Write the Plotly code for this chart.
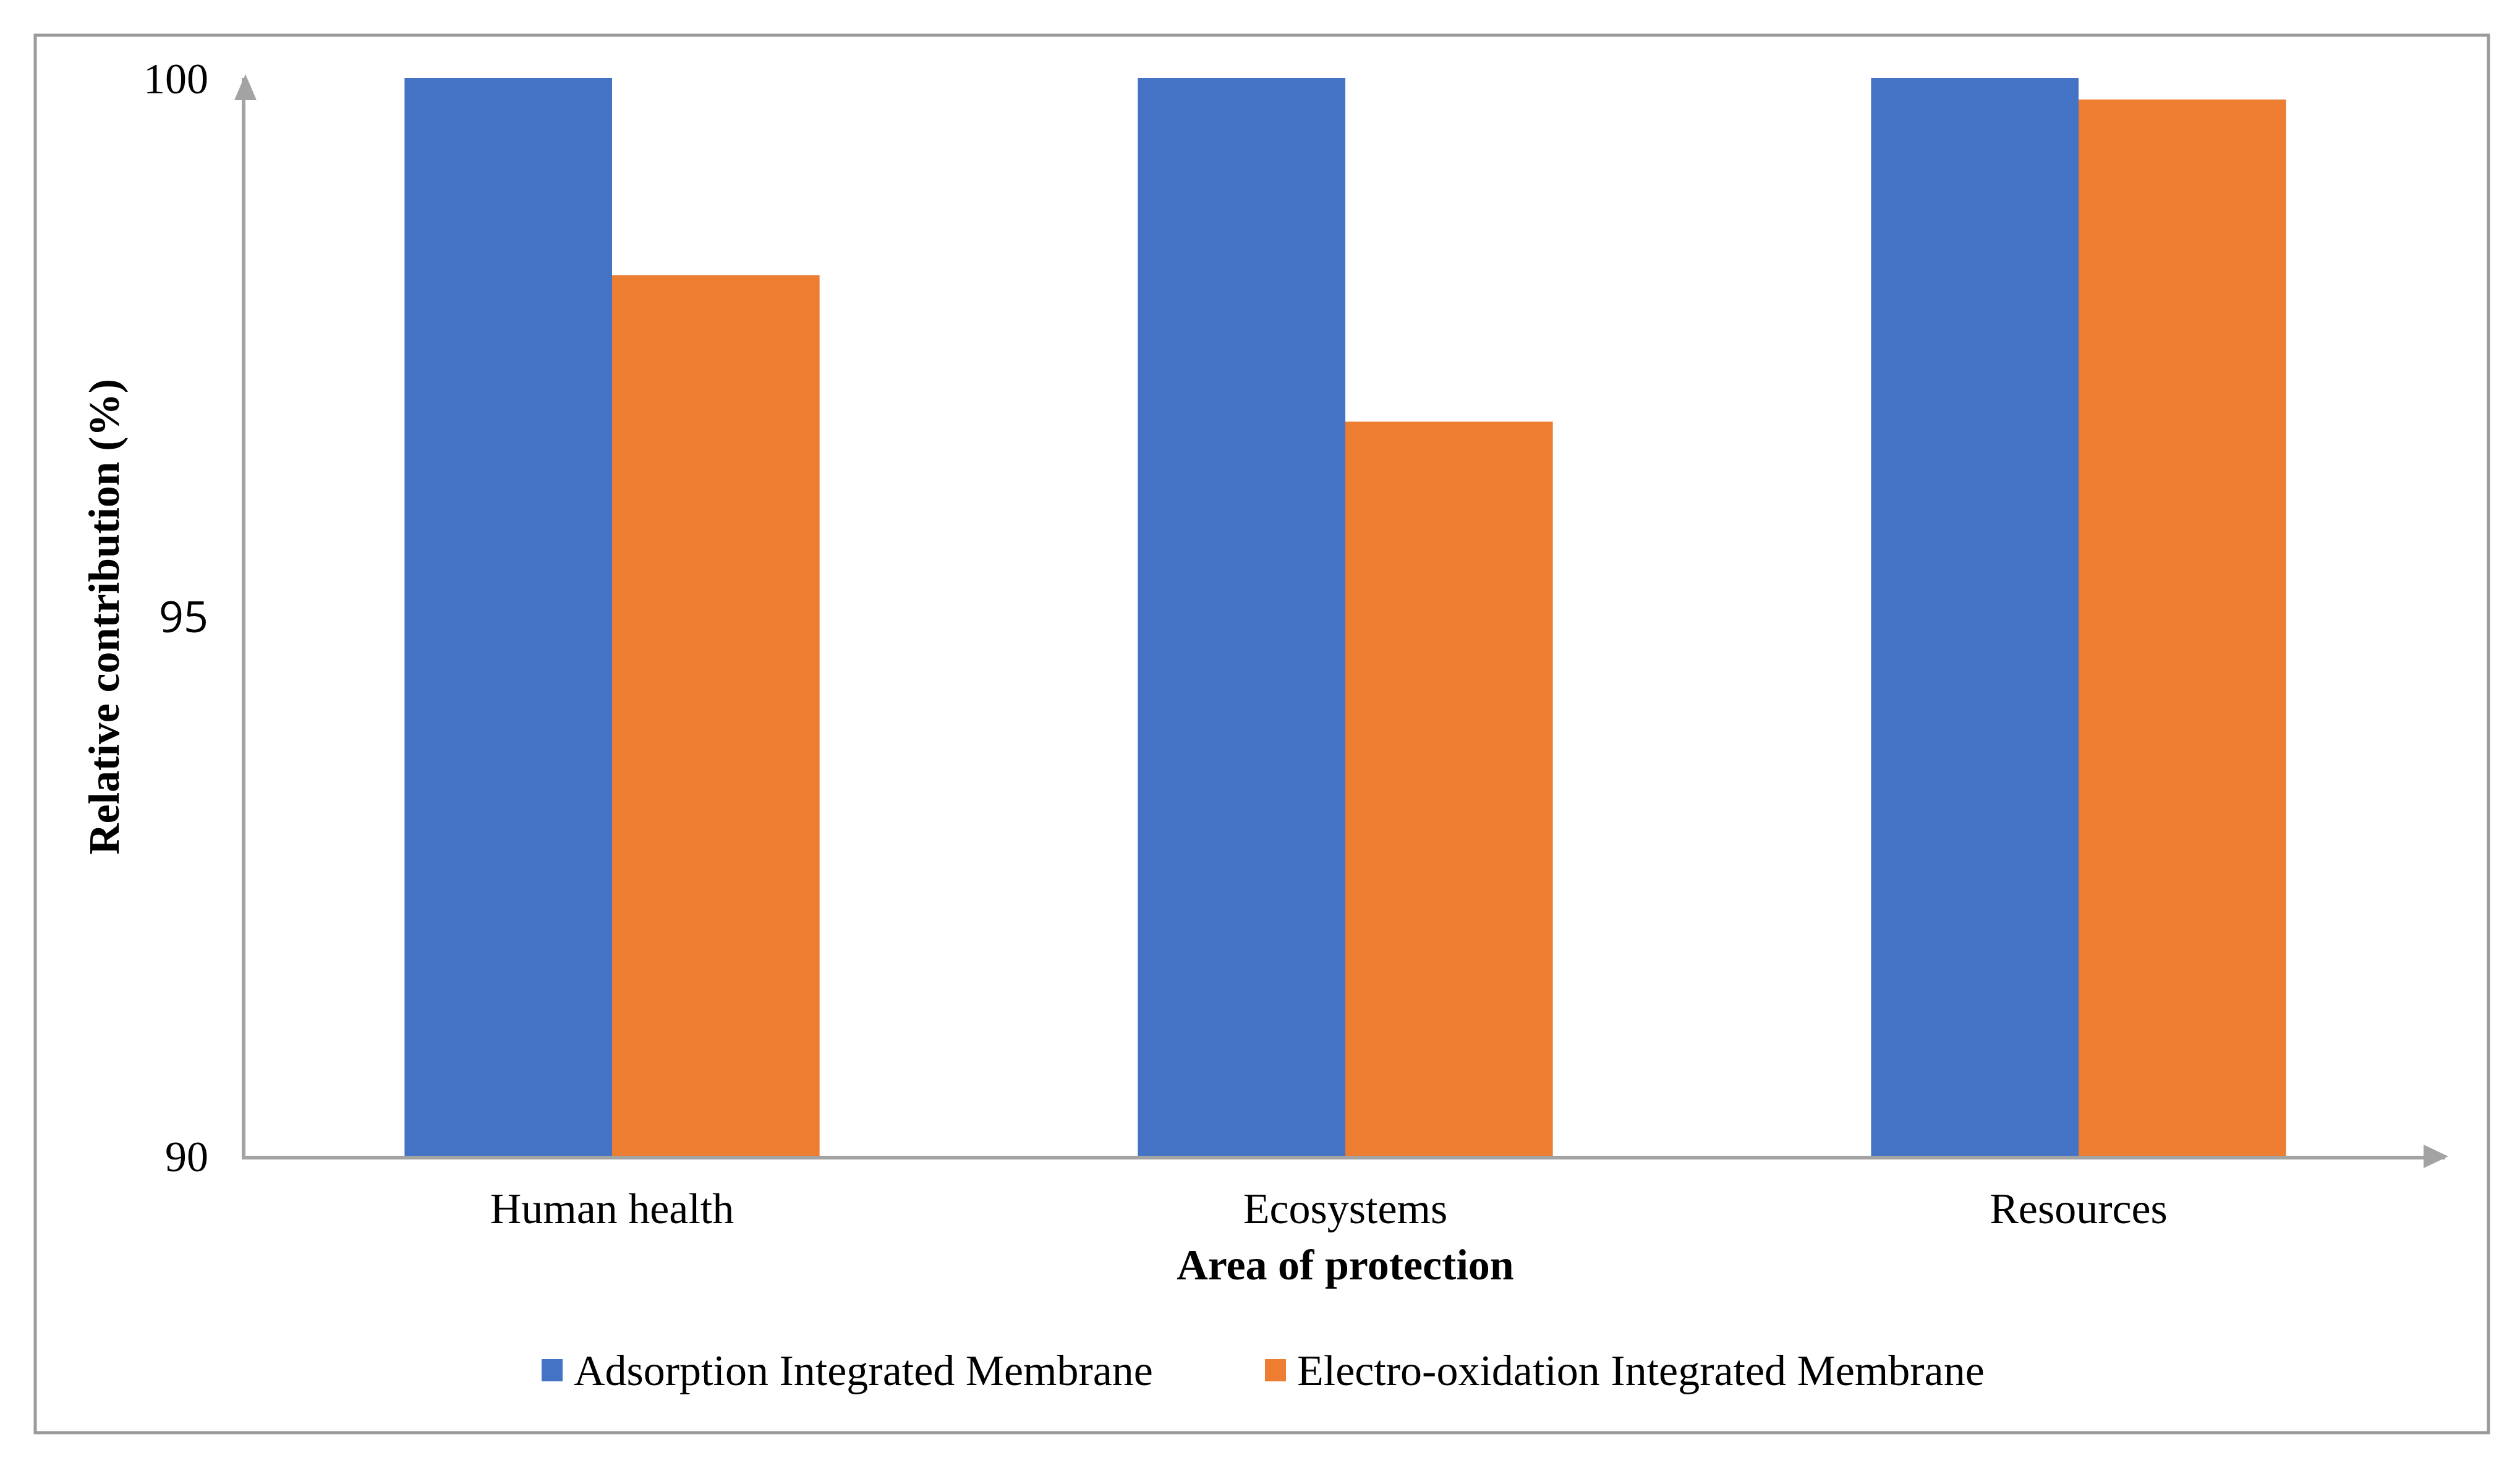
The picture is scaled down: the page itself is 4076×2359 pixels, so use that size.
import plotly.graph_objects as go

# ---- data ----
categories = ["Human health", "Ecosystems", "Resources"]
series_names = ["Adsorption Integrated Membrane", "Electro-oxidation Integrated Membrane"]
adsorption = [100, 100, 100]
electro_oxidation = [98.17, 96.81, 99.80]
series_colors = ["#4472C4", "#ED7D31"]
y_tickvals = [90, 95, 100]
y_ticktext = ["90", "<span style='font-family:Open Sans'>95</span>", "100"]
x_title = "Area of protection"
y_title = "Relative contribution (%)"

# ---- geometry ----
W, H = 4076, 2359
L, R, T, B = 397, 121, 126, 489
PW, PH = W - L - R, H - T - B


def px(x):
    return (x - L) / PW


def py(y):
    return (H - B - y) / PH


FONT = "Liberation Serif, Times New Roman, serif"
AXIS_GREY = "#a3a3a3"

fig = go.Figure()
for name, vals, col in zip(series_names, [adsorption, electro_oxidation], series_colors):
    fig.add_trace(go.Bar(x=categories, y=vals, name=name, marker_color=col,
                         marker_line_width=0, showlegend=False))

fig.update_layout(
    width=W, height=H, autosize=False,
    margin=dict(l=L, r=R, t=T, b=B, pad=0),
    paper_bgcolor="white", plot_bgcolor="white",
    barmode="group", bargap=0.434, bargroupgap=0,
    font=dict(family=FONT, size=70, color="black"),
    xaxis=dict(
        range=[-0.5, 2.5], showline=True, linecolor=AXIS_GREY, linewidth=6,
        showgrid=False, zeroline=False, ticks="", ticklabelstandoff=19,
        tickfont=dict(family=FONT, size=70, color="black"),
        title=dict(text="<b>" + x_title + "</b>", standoff=30,
                   font=dict(family=FONT, size=70, color="black")),
    ),
    yaxis=dict(
        range=[90, 100], showline=True, linecolor=AXIS_GREY, linewidth=6,
        showgrid=False, zeroline=False, ticks="", ticklabelstandoff=40,
        tickvals=y_tickvals, ticktext=y_ticktext,
        tickfont=dict(family=FONT, size=70, color="black"),
        title=dict(text="<b>" + y_title + "</b>", standoff=19,
                   font=dict(family=FONT, size=70, color="black")),
    ),
)

shapes = []
# outer frame
shapes.append(dict(type="rect", xref="paper", yref="paper",
                   x0=px(57), x1=px(4025), y0=py(2318), y1=py(57),
                   line=dict(color="#9a9a9a", width=5), fillcolor="rgba(0,0,0,0)", layer="above"))
# arrow heads
shapes.append(dict(type="path", xref="paper", yref="paper",
                   path=f"M {px(379)},{py(162)} L {px(397)},{py(120)} L {px(415)},{py(162)} Z",
                   fillcolor=AXIS_GREY, line=dict(width=0), layer="above"))
shapes.append(dict(type="path", xref="paper", yref="paper",
                   path=f"M {px(3920)},{py(1852)} L {px(3960)},{py(1871)} L {px(3920)},{py(1890)} Z",
                   fillcolor=AXIS_GREY, line=dict(width=0), layer="above"))

# custom legend
legend_items = [(876, 926), (2046, 2096)]
legend_y = 2217
annotations = []
for (sq_x, tx_x), name, col in zip(legend_items, series_names, series_colors):
    shapes.append(dict(type="rect", xref="paper", yref="paper",
                       x0=px(sq_x), x1=px(sq_x + 34), y0=py(legend_y + 18), y1=py(legend_y - 18),
                       fillcolor=col, line=dict(width=0)))
    annotations.append(dict(xref="paper", yref="paper", x=px(tx_x), y=py(legend_y),
                            xanchor="left", yanchor="middle", showarrow=False, text=name,
                            font=dict(family=FONT, size=70, color="black")))

fig.update_layout(shapes=shapes, annotations=annotations)

fig.write_html("out.html", config={"displayModeBar": False},
               post_script="document.body.style.margin='0';document.body.style.overflow='hidden';")
